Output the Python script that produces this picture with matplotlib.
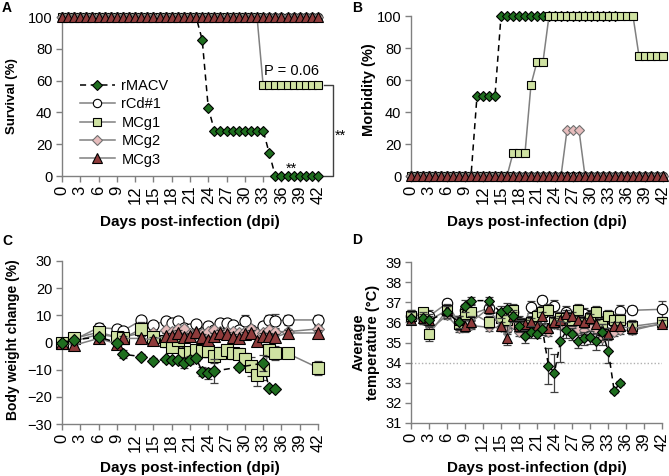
import numpy as np
import matplotlib
matplotlib.use("Agg")
import matplotlib.pyplot as plt

plt.rcParams['font.family'] = ['Liberation Sans', 'DejaVu Sans']

# ---------------- data ----------------
series_names = ["rMACV", "rCd#1", "MCg1", "MCg2", "MCg3"]

days_ab = list(range(43))

surv_rmacv = [100, 100, 100, 100, 100, 100, 100, 100, 100, 100, 100, 100, 100, 100, 100, 100, 100, 100, 100, 100, 100, 100, 100,
              85.7, 42.9, 28.6, 28.6, 28.6, 28.6, 28.6, 28.6, 28.6, 28.6, 28.6, 14.3,
              0, 0, 0, 0, 0, 0, 0, 0]
surv_rcd = [100] * 43
surv_mcg1 = [100, 100, 100, 100, 100, 100, 100, 100, 100, 100, 100, 100, 100, 100, 100, 100, 100, 100, 100, 100, 100, 100, 100,
             100, 100, 100, 100, 100, 100, 100, 100, 100, 100,
             57.1, 57.1, 57.1, 57.1, 57.1, 57.1, 57.1, 57.1, 57.1, 57.1]
surv_mcg2 = [100] * 43
surv_mcg3 = [100] * 43

nan = np.nan
morb_rmacv = [0, 0, 0, 0, 0, 0, 0, 0, 0, 0, 0,
              50, 50, 50, 50,
              100, 100, 100, 100, 100, 100, 100, 100, 100, 100, 100, 100, 100, 100, 100, 100, 100, 100, 100, 100,
              nan, nan, nan, nan, nan, nan, nan, nan]
morb_rcd = [0] * 43
morb_mcg1 = [0, 0, 0, 0, 0, 0, 0, 0, 0, 0, 0, 0, 0, 0, 0, 0, 0,
             14.3, 14.3, 14.3, 57.1, 71.4, 71.4,
             100, 100, 100, 100, 100, 100, 100, 100, 100, 100, 100, 100, 100, 100, 100,
             75, 75, 75, 75, 75]
morb_mcg2 = [0, 0, 0, 0, 0, 0, 0, 0, 0, 0, 0, 0, 0, 0, 0, 0, 0, 0, 0, 0, 0, 0, 0, 0, 0, 0,
             28.6, 28.6, 28.6,
             0, 0, 0, 0, 0, 0, 0, 0, 0, 0, 0, 0, 0, 0]
morb_mcg3 = [0] * 43

days_c = [0, 2, 6, 9, 10, 13, 15, 17, 18, 19, 20, 21, 22, 23, 24, 25, 26, 27, 28, 29, 30, 31, 32, 33, 34, 35, 37, 42]
wt_rmacv = [0, 1.0, 2.0, 0.0, -4.3, -5.2, -6.7, -6.2, -6.6, -6.6, -7.4, -6.5, -5.7, -10.7, -11.3, -10.5,
            nan, nan, nan, -9.1, nan, nan, nan, -7.6, -16.9, -17.3, nan, nan]
wt_rmacv_err = [0.5, 0.5, 1, 1, 1.5, 1, 1, 1, 1, 1, 2, 1.5, 1, 1.5, 2, 4.5,
                nan, nan, nan, 1, nan, nan, nan, 3, 0.5, 0.5, nan, nan]
wt_rcd = [0, 1.0, 5.5, 5.0, 4.3, 8.2, 6.5, 8.0, 7.2, 7.8, 5.5, 5.0, 6.7, 3.5, 6.0, 4.5, 7.0, 7.0, 6.5, 4.5,
          7.8, 4.5, 3.5, 6.0, 8.2, 8.0, 8.3, 8.3]
wt_rcd_err = [0.5, 1, 1.5, 1, 1, 1, 1, 1, 1, 1.5, 1, 1, 1, 1, 1.5, 1.5, 1.5, 1.5, 1.5, 1.5, 2.5, 1.5, 1.5,
              1.5, 2, 2.5, 2, 2]
wt_mcg1 = [0, 1.5, 3.8, 2.0, 1.5, 5.0, 2.0, 0.5, -1.5, 0.8, -4.3, -3.5, -2.7, -3.3, -3.2, -5.0, -3.8, -2.8,
           -3.9, -4.1, -6.2, -8.8, -12.0, -10.3, -2.9, -3.9, -4.0, -9.3]
wt_mcg1_err = [0.5, 1, 2, 1, 1, 2.5, 1.5, 2, 2, 2.5, 2.5, 2, 1.5, 2, 2, 2.5, 2, 2, 2, 2, 2.5, 3.5, 4, 3.5,
               2.5, 2.5, 1.5, 2.5]
wt_mcg2 = [0, 0.5, 3.0, 2.0, 2.0, 3.5, 3.5, 4.5, 4.0, 5.0, 5.0, 3.0, 3.5, 3.0, 4.0, 4.5, 4.0, 4.0, 4.0, 3.5,
           4.0, 5.0, 3.0, 3.5, 4.5, 4.0, 4.0, 5.0]
wt_mcg2_err = [0.5, 1, 1, 1, 1, 1, 1, 1, 1, 1, 1, 1, 1, 1, 1, 1, 1, 1, 1, 1, 1, 1, 1, 1, 1, 1, 1, 1]
wt_mcg3 = [0, -1.0, 1.5, -0.5, 1.5, 1.5, 1.0, 2.5, 2.5, 3.5, 2.0, 2.5, 4.0, 2.0, 1.0, 2.5, 3.5, 3.0, 2.0, 1.5,
           3.0, 3.5, 0.5, 2.5, 2.5, 2.0, 3.5, 3.5]
wt_mcg3_err = [0.5, 1, 1, 1, 1, 1, 1, 1, 1, 1, 1, 1, 1, 1, 1, 1, 1, 1, 1, 1, 1, 1, 1, 1, 1, 1, 1, 1]

days_d = [0, 2, 3, 6, 8, 9, 10, 13, 15, 16, 17, 18, 19, 20, 21, 22, 23, 24, 25, 26, 27, 28, 29, 30, 31, 32, 33,
          34, 35, 37, 42]
tp_rmacv = [36.2, 36.2, 36.1, 36.5, 36.0, 36.8, 37.08, 37.08, 36.5, 36.65, 36.3, 35.8, 35.3, 35.5, 35.4, 35.65,
            33.85, 33.5, 35.05, 35.6, 35.4, 35.05, 35.2, 35.25, 35.05, 35.5, 34.6, 32.6, 33.0, nan, nan]
tp_rmacv_err = [0.3, 0.3, 0.3, 0.3, 0.3, 0.3, 0.2, 0.2, 0.3, 0.3, 0.3, 0.3, 0.3, 0.3, 0.2, 0.3, 0.9, 0.95, 1.0,
                0.4, 0.3, 0.3, 0.3, 0.3, 0.4, 0.4, 0.6, 0.1, 0.1, nan, nan]
tp_rcd = [36.3, 36.4, 36.3, 36.95, 36.0, 36.6, 36.4, 36.7, 36.3, 36.2, 36.5, 36.0, 35.9, 36.75, 36.2, 37.1,
          36.2, 36.8, 36.2, 36.5, 36.2, 36.6, 36.4, 36.3, 36.4, 36.0, 36.2, 36.0, 36.55, 36.6, 36.65]
tp_rcd_err = [0.3, 0.3, 0.3, 0.2, 0.3, 0.3, 0.3, 0.3, 0.3, 0.3, 0.3, 0.3, 0.3, 0.3, 0.3, 0.2, 0.3, 0.3, 0.3,
              0.3, 0.3, 0.3, 0.3, 0.3, 0.3, 0.3, 0.3, 0.3, 0.3, 0.2, 0.4]
tp_mcg1 = [36.3, 36.5, 35.4, 36.6, 35.9, 36.4, 36.5, 36.0, 36.2, 36.1, 36.6, 35.9, 35.8, 36.0, 36.3, 36.5, 36.6,
           36.0, 36.2, 36.2, 36.1, 36.6, 36.0, 36.2, 36.5, 35.9, 36.3, 36.1, 36.1, 35.8, 36.0]
tp_mcg1_err = [0.3, 0.2, 0.35, 0.3, 0.3, 0.3, 0.4, 0.3, 0.4, 0.6, 0.3, 0.3, 0.3, 0.3, 0.3, 0.3, 0.3, 0.3, 0.3,
               0.3, 0.3, 0.2, 0.3, 0.3, 0.3, 0.3, 0.3, 0.3, 0.3, 0.3, 0.2]
tp_mcg2 = [36.3, 36.1, 35.6, 36.35, 35.7, 36.3, 35.85, 35.75, 35.75, 35.6, 35.9, 35.5, 35.6, 35.6, 35.7, 35.7,
           35.5, 35.9, 35.85, 35.85, 35.75, 35.65, 35.6, 35.8, 35.6, 35.2, 35.5, 35.5, 35.6, 35.6, 35.95]
tp_mcg2_err = [0.2, 0.2, 0.2, 0.2, 0.2, 0.2, 0.2, 0.2, 0.2, 0.2, 0.2, 0.2, 0.2, 0.2, 0.2, 0.2, 0.2, 0.2, 0.2,
               0.2, 0.2, 0.2, 0.2, 0.2, 0.2, 0.3, 0.2, 0.2, 0.2, 0.2, 0.2]
tp_mcg3 = [36.1, 36.2, 36.1, 36.6, 36.1, 35.8, 36.0, 36.7, 35.8, 35.2, 36.3, 35.8, 35.9, 36.0, 35.8, 36.3, 35.7,
           36.0, 36.1, 36.4, 36.3, 36.1, 36.0, 36.2, 35.9, 35.6, 35.4, 35.8, 35.8, 35.7, 35.9]
tp_mcg3_err = [0.2, 0.2, 0.2, 0.2, 0.2, 0.3, 0.3, 0.2, 0.2, 0.3, 0.2, 0.2, 0.2, 0.2, 0.2, 0.2, 0.2, 0.2, 0.2,
               0.2, 0.2, 0.2, 0.2, 0.2, 0.2, 0.3, 0.3, 0.2, 0.2, 0.3, 0.2]

xticks = list(range(0, 43, 3))

# ---------------- styles ----------------
GRAY = '#808080'
styles = {
    "rMACV": dict(marker='D', mfc='#1f6e1f', mec='black', ls=(0, (4, 3)), color='black'),
    "rCd#1": dict(marker='o', mfc='white', mec='black', ls='-', color=GRAY),
    "MCg1": dict(marker='s', mfc='#cfe2a2', mec='black', ls='-', color=GRAY),
    "MCg2": dict(marker='D', mfc='#e6bcbc', mec='#707070', ls='-', color=GRAY),
    "MCg3": dict(marker='^', mfc='#8e3b3b', mec='black', ls='-', color=GRAY),
}
msz_small = {"rMACV": 5, "rCd#1": 6, "MCg1": 6, "MCg2": 5, "MCg3": 6.5}
msz_big = {"rMACV": 6, "rCd#1": 8, "MCg1": 8, "MCg2": 6, "MCg3": 8}

fig = plt.figure(figsize=(6.69, 4.76), dpi=100)
W, H = 669, 476


def add_ax(l, t, r, b):
    return fig.add_axes([l / W, 1 - b / H, (r - l) / W, (b - t) / H])


def style_ax(ax):
    for s in ['top', 'right']:
        ax.spines[s].set_visible(False)
    for s in ['left', 'bottom']:
        ax.spines[s].set_color(GRAY)
        ax.spines[s].set_linewidth(1)
    ax.tick_params(axis='both', colors=GRAY, labelcolor='black', length=4, width=1, direction='out')
    ax.tick_params(axis='y', labelsize=10.5, pad=3)
    ax.tick_params(axis='x', labelsize=12, pad=3)
    ax.set_xlim(0, 42)
    ax.set_xticks(xticks)
    ax.set_xticklabels([str(t) for t in xticks], rotation=90)


axA = add_ax(62, 17, 318, 176)
axB = add_ax(411, 16, 663, 176)
axC = add_ax(62, 261, 318, 424)
axD = add_ax(411, 262, 662, 423)

# Panel A
surv = [surv_rmacv, surv_rcd, surv_mcg1, surv_mcg2, surv_mcg3]
handles = []
for i, (name, vals) in enumerate(zip(series_names, surv)):
    st = styles[name]
    h, = axA.plot(days_ab, vals, marker=st['marker'], mfc=st['mfc'], mec=st['mec'], mew=0.8,
                  ms=msz_small[name], ls=st['ls'], color=st['color'], lw=1.1, clip_on=False,
                  zorder=3 + i, label=name)
    handles.append(h)
style_ax(axA)
axA.set_ylim(0, 100)
axA.set_yticks([0, 20, 40, 60, 80, 100])
axA.text(37.6, 66, "P = 0.06", fontsize=10.5, ha='center', va='center')
axA.text(37.7, 2, "**", fontsize=10.5, ha='center', va='baseline')
axA.plot([43.0, 44.5, 44.5, 43.0], [57.1, 57.1, 0, 0], color='#404040', lw=1, clip_on=False)
axA.text(44.8, 22.6, "**", fontsize=10.5, ha='left', va='baseline', clip_on=False)
leg = axA.legend(handles=handles, loc='upper left', bbox_to_anchor=(0.07, 0.61), frameon=False,
                 fontsize=10.5, handlelength=2.4, handletextpad=0.45, labelspacing=0.3,
                 borderaxespad=0, borderpad=0)

# Panel B
morb = [morb_rmacv, morb_rcd, morb_mcg1, morb_mcg2, morb_mcg3]
for i, (name, vals) in enumerate(zip(series_names, morb)):
    st = styles[name]
    axB.plot(days_ab, vals, marker=st['marker'], mfc=st['mfc'], mec=st['mec'], mew=0.8,
             ms=msz_small[name], ls=st['ls'], color=st['color'], lw=1.1, clip_on=False, zorder=3 + i)
style_ax(axB)
axB.set_ylim(0, 100)
axB.set_yticks([0, 20, 40, 60, 80, 100])

# Panel C
wts = [(wt_rmacv, wt_rmacv_err), (wt_rcd, wt_rcd_err), (wt_mcg1, wt_mcg1_err),
       (wt_mcg2, wt_mcg2_err), (wt_mcg3, wt_mcg3_err)]
zorders = {"rMACV": 7, "rCd#1": 3, "MCg1": 5, "MCg2": 4, "MCg3": 6}
for name, (vals, errs) in zip(series_names, wts):
    st = styles[name]
    x = np.array(days_c, dtype=float)
    y = np.array(vals, dtype=float)
    e = np.array(errs, dtype=float)
    m = ~np.isnan(y)
    z = zorders[name]
    axC.errorbar(x[m], y[m], yerr=e[m], fmt='none', ecolor='#404040', elinewidth=0.9, capsize=3.2,
                 capthick=0.9, zorder=z - 0.5, clip_on=False)
    axC.plot(x[m], y[m], marker=st['marker'], mfc=st['mfc'], mec=st['mec'], mew=0.8,
             ms=msz_big[name], ls=st['ls'], color=st['color'], lw=1.1, clip_on=False, zorder=z)
style_ax(axC)
axC.set_ylim(-30, 30)
axC.set_yticks([-30, -20, -10, 0, 10, 20, 30])

# Panel D
tps = [(tp_rmacv, tp_rmacv_err), (tp_rcd, tp_rcd_err), (tp_mcg1, tp_mcg1_err),
       (tp_mcg2, tp_mcg2_err), (tp_mcg3, tp_mcg3_err)]
for name, (vals, errs) in zip(series_names, tps):
    st = styles[name]
    x = np.array(days_d, dtype=float)
    y = np.array(vals, dtype=float)
    e = np.array(errs, dtype=float)
    m = ~np.isnan(y)
    z = zorders[name]
    axD.errorbar(x[m], y[m], yerr=e[m], fmt='none', ecolor='#404040', elinewidth=0.9, capsize=3.2,
                 capthick=0.9, zorder=z - 0.5, clip_on=False)
    axD.plot(x[m], y[m], marker=st['marker'], mfc=st['mfc'], mec=st['mec'], mew=0.8,
             ms=msz_big[name] - 0.5, ls=st['ls'], color=st['color'], lw=1.1, clip_on=False, zorder=z)
axD.axhline(34, color='#b0b0b0', lw=1, ls=(0, (1, 1.5)), zorder=1)
style_ax(axD)
axD.set_ylim(31, 39)
axD.set_yticks(list(range(31, 40)))

# labels
xlab_kw = dict(fontsize=11, fontweight='bold')
for ax in (axA, axB, axC, axD):
    ax.set_xlabel("Days post-infection (dpi)", **xlab_kw)
axA.xaxis.set_label_coords(0.5, -0.245)
axB.xaxis.set_label_coords(0.5, -0.245)
axC.xaxis.set_label_coords(0.5, -0.225)
axD.xaxis.set_label_coords(0.5, -0.235)

axA.set_ylabel("Survival (%)", fontsize=9.5, fontweight='bold')
axA.yaxis.set_label_coords(-0.17, 0.5)
axB.set_ylabel("Morbidity (%)", fontsize=10.5, fontweight='bold')
axB.yaxis.set_label_coords(-0.14, 0.54)
axC.set_ylabel("Body weight change (%)", fontsize=10, fontweight='bold')
axC.yaxis.set_label_coords(-0.165, 0.515)
axD.set_ylabel("Average\ntemperature (°C)", linespacing=1.0, fontsize=10.5, fontweight='bold')
axD.yaxis.set_label_coords(-0.125, 0.5)

# panel letters
for letter, px, py in [("A", 2, 1), ("B", 352, 1), ("C", 2, 234), ("D", 352, 233)]:
    fig.text(px / W, 1 - py / H, letter, fontsize=10, fontweight='bold', ha='left', va='top')

fig.savefig("out.png", dpi=100)
